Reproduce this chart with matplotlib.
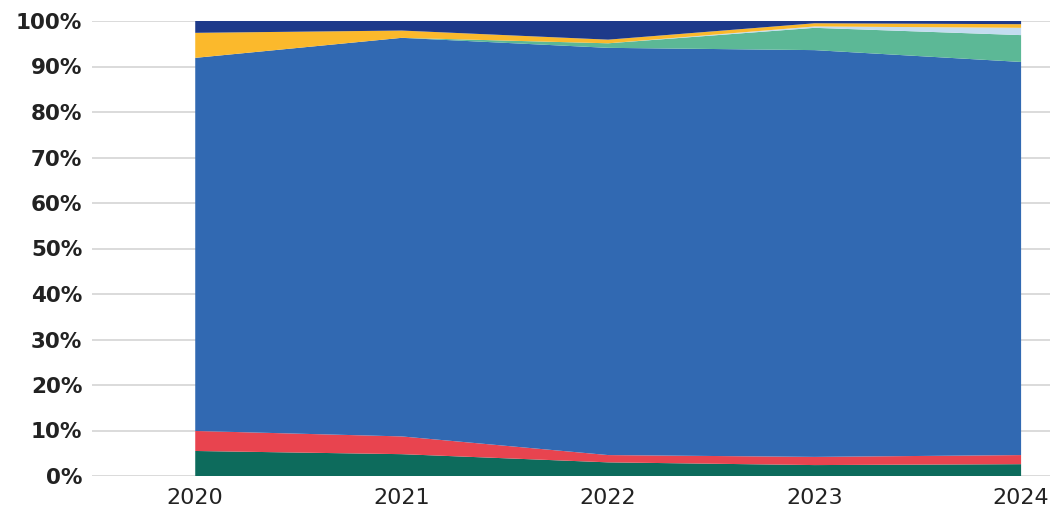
import matplotlib
matplotlib.use("Agg")
import matplotlib.pyplot as plt
import numpy as np

years = [2020, 2021, 2022, 2023, 2024]

# shares in percent, bottom layer first
teal = [5.5, 4.8, 3.0, 2.4, 2.6]
red = [4.4, 3.9, 1.6, 1.8, 2.0]
blue = [82.0, 87.6, 89.5, 89.4, 86.4]
green = [0.0, 0.0, 1.0, 4.9, 5.9]
light_blue = [0.0, 0.0, 0.0, 0.3, 1.6]
yellow = [5.5, 1.6, 0.8, 0.7, 0.8]
navy = [2.6, 2.1, 4.1, 0.5, 0.7]

layers = [teal, red, blue, green, light_blue, yellow, navy]
colors = ['#0d6b5c', '#e8444f', '#3169b2', '#5cb896', '#c3dcf0', '#fbb92c', '#1e3a8a']

y_ticks = [0, 10, 20, 30, 40, 50, 60, 70, 80, 90, 100]
y_labels = ['%d%%' % v for v in y_ticks]

fig = plt.figure(figsize=(10.56, 5.12), dpi=100)
ax = fig.add_axes([92 / 1056, 36 / 512, 958 / 1056, 455 / 512])

ax.stackplot(years, *layers, colors=colors, linewidth=0, zorder=2)

for v in y_ticks:
    ax.axhline(v, color='#d4d4d4', linewidth=1.2, zorder=1)

ax.set_xlim(2019.5, 2024.14)
ax.set_ylim(0, 100)
ax.set_xticks(years)
ax.set_xticklabels([str(y) for y in years], fontsize=16, color='#222222', family='DejaVu Sans')
ax.set_yticks(y_ticks)
ax.set_yticklabels(y_labels, fontsize=15.5, fontweight='bold', color='#222222', family='DejaVu Sans')
ax.tick_params(axis='both', length=0)
ax.tick_params(axis='x', pad=9)
ax.tick_params(axis='y', pad=7)
for s in ax.spines.values():
    s.set_visible(False)

fig.savefig('out.png', dpi=100)
